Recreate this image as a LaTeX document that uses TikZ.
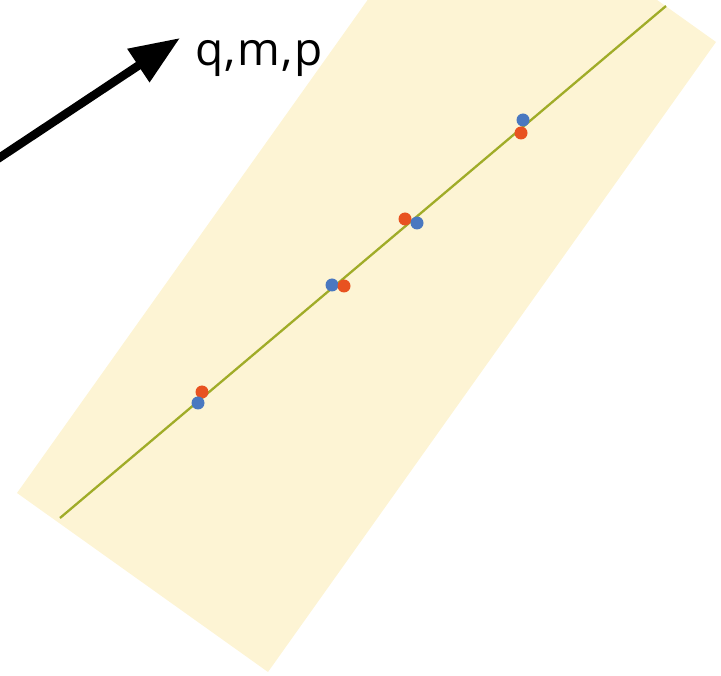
\documentclass[tikz,border=0pt]{standalone}
\usepackage{fontspec}
\setmainfont{Open Sans}[LetterSpace=3]
\usetikzlibrary{arrows.meta}
\definecolor{bandfill}{RGB}{253,244,212}
\definecolor{fitline}{RGB}{160,172,40}
\definecolor{dotblue}{RGB}{74,120,192}
\definecolor{dotred}{RGB}{232,82,32}
\tikzset{
  bluedot/.style={circle,fill=dotblue,inner sep=0pt,minimum size=13pt},
  reddot/.style={circle,fill=dotred,inner sep=0pt,minimum size=13pt},
  bigarrow/.style={line width=8.5pt,-{Triangle[length=50pt,width=38pt]}}
}
\begin{document}
\begin{tikzpicture}[x=1pt,y=-1pt]
\useasboundingbox (0,0) rectangle (721,676);
\clip (0,0) rectangle (721,676);
% band
\fill[bandfill] (17,493) -- (268,672) -- (716,42) -- (465,-137) -- cycle;
% fitted line
\coordinate (la) at (60,518);
\coordinate (lb) at (666,6);
\draw[fitline,line width=2.3pt] (la) -- (lb);
% points
\node[bluedot] (b1) at (523,120) {};
\node[reddot]  (r1) at (521,133) {};
\node[reddot]  (r2) at (405,219) {};
\node[bluedot] (b2) at (417,223) {};
\node[bluedot] (b3) at (332,285) {};
\node[reddot]  (r3) at (344,286) {};
\node[reddot]  (r4) at (202,392) {};
\node[bluedot] (b4) at (198,403) {};
% arrow and label
\coordinate (at) at (-10,164);
\coordinate (ah) at (180,38);
\draw[bigarrow] (at) -- (ah);
\node[anchor=base west,inner sep=0pt,font=\fontsize{46}{50}\selectfont] (lbl) at (195,66) {q,m,p};
\end{tikzpicture}
\end{document}
